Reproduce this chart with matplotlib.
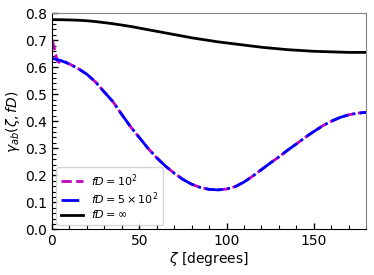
import matplotlib
matplotlib.use('Agg')
import matplotlib.pyplot as plt
from matplotlib.ticker import MultipleLocator

# angular separation (degrees)
zeta = [0, 5, 10, 15, 20, 25, 30, 35, 40, 45, 50, 55, 60, 65, 70, 75, 80, 85,
        90, 95, 100, 105, 110, 115, 120, 125, 130, 135, 140, 145, 150, 155,
        160, 165, 170, 175, 180]

# fD = 5 x 10^2
gamma_500 = [0.633, 0.625, 0.612, 0.595, 0.574, 0.545, 0.508, 0.472, 0.425,
             0.380, 0.340, 0.300, 0.265, 0.234, 0.208, 0.185, 0.167, 0.155,
             0.148, 0.146, 0.149, 0.158, 0.175, 0.197, 0.221, 0.245, 0.268,
             0.293, 0.316, 0.340, 0.362, 0.383, 0.400, 0.414, 0.424, 0.430,
             0.433]

# fD = 10^2 (differs from the above only near zeta = 0)
zeta_100 = [0, 1, 2, 3, 4, 5, 7, 10, 15, 20, 25, 30, 35, 40, 45, 50, 55, 60,
            65, 70, 75, 80, 85, 90, 95, 100, 105, 110, 115, 120, 125, 130,
            135, 140, 145, 150, 155, 160, 165, 170, 175, 180]
gamma_100 = [0.700, 0.680, 0.650, 0.625, 0.618, 0.622, 0.622, 0.612] + gamma_500[3:]

# fD = infinity
gamma_inf = [0.776, 0.776, 0.775, 0.774, 0.772, 0.769, 0.765, 0.761, 0.756,
             0.751, 0.745, 0.739, 0.733, 0.727, 0.721, 0.715, 0.709, 0.704,
             0.699, 0.694, 0.690, 0.686, 0.682, 0.678, 0.674, 0.671, 0.668,
             0.665, 0.663, 0.661, 0.659, 0.658, 0.657, 0.656, 0.655, 0.655,
             0.655]

labels = [r'$fD = 10^2$', r'$fD = 5\times10^2$', r'$fD = \infty$']

fig = plt.figure(figsize=(3.74, 2.75), dpi=100)
ax = fig.add_axes([0.139, 0.166, 0.840, 0.786])

ax.plot(zeta_100, gamma_100, color='m', ls='--', lw=2, label=labels[0])
ax.plot(zeta, gamma_500, color='b', ls='-.', lw=2, label=labels[1])
ax.plot(zeta, gamma_inf, color='k', ls='-', lw=2, label=labels[2])

ax.set_xlim(0, 180)
ax.set_ylim(0, 0.8)
ax.xaxis.set_major_locator(MultipleLocator(50))
ax.xaxis.set_minor_locator(MultipleLocator(10))
ax.yaxis.set_major_locator(MultipleLocator(0.1))
ax.yaxis.set_minor_locator(MultipleLocator(0.02))
ax.tick_params(which='both', direction='in', labelsize=10)
ax.tick_params(which='major', length=4.5, width=1)
ax.tick_params(which='minor', length=2.7, width=0.8)
for side in ['top', 'right']:
    ax.spines[side].set_color('gray')

ax.set_xlabel(r'$\zeta$ [degrees]', fontsize=10, labelpad=1)
ax.set_ylabel(r'$\gamma_{ab}(\zeta, fD)$', fontsize=10, labelpad=2)
ax.legend(loc='lower left', fontsize=8, handlelength=2.0,
          borderaxespad=0.4, labelspacing=0.15, handletextpad=0.75)

plt.savefig('out.png', dpi=100)
